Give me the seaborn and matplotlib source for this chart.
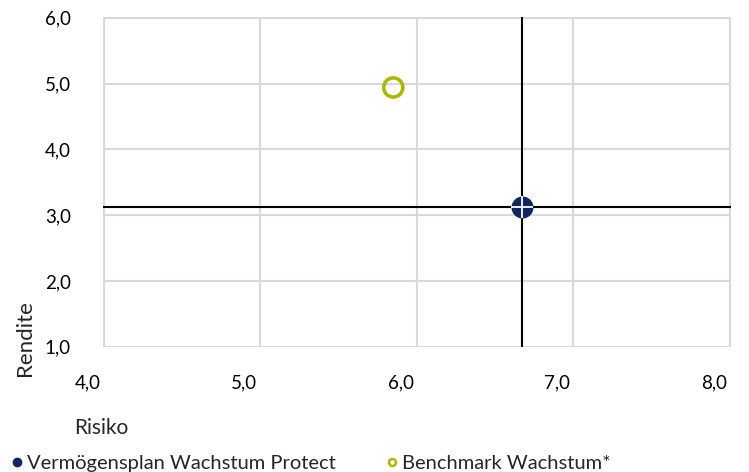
import matplotlib
matplotlib.use("Agg")
import matplotlib.pyplot as plt
import matplotlib.transforms as mtransforms
from matplotlib.lines import Line2D
import seaborn as sns
import pandas as pd

# Werte
namen = ["Vermögensplan Wachstum Protect", "Benchmark Wachstum*"]
risiko = [6.67, 5.85]
rendite = [3.12, 4.94]
x_ticks = [4.0, 5.0, 6.0, 7.0, 8.0]
y_ticks = [1.0, 2.0, 3.0, 4.0, 5.0, 6.0]

df = pd.DataFrame({"Risiko": risiko, "Rendite": rendite, "Name": namen})

sns.set_style("white")
plt.rcParams["font.family"] = ["Lato", "DejaVu Sans"]

navy = "#13265c"
gruen = "#a9b800"
grau = "#d9d9d9"

fig = plt.figure(figsize=(7.49, 4.72), dpi=100)
ax = fig.add_axes([0.1375, 0.2648, 0.8385, 0.699])

# Fadenkreuz durch den Fonds
ax.axhline(df.loc[0, "Rendite"], color="black", lw=1.5, zorder=3)
ax.axvline(df.loc[0, "Risiko"], color="black", lw=1.5, zorder=3)

sns.scatterplot(data=df.iloc[[0]], x="Risiko", y="Rendite", ax=ax,
                color=navy, s=250, edgecolor=navy, linewidth=0, zorder=4,
                legend=False)
ax.scatter(df.loc[0, "Risiko"], df.loc[0, "Rendite"], marker="+", s=230,
           color="white", linewidths=1.3, zorder=5)
sns.scatterplot(data=df.iloc[[1]], x="Risiko", y="Rendite", ax=ax,
                facecolor="none", edgecolor=gruen, s=190, linewidth=2.6,
                zorder=4, legend=False)

ax.set_xlim(3.995, 8.008)
ax.set_ylim(0.995, 6.01)
ax.set_xticks(x_ticks)
ax.set_yticks(y_ticks)
ax.set_xticklabels([f"{v:.1f}".replace(".", ",") for v in x_ticks])
ax.set_yticklabels([f"{v:.1f}".replace(".", ",") for v in y_ticks])
ax.grid(True, color=grau, lw=1.5)
ax.set_axisbelow(True)
for s in ax.spines.values():
    s.set_visible(False)
ax.tick_params(axis="both", length=11, width=1.5, color=grau,
               labelsize=13.5, labelcolor="black")
ax.tick_params(axis="y", pad=12)
ax.tick_params(axis="x", pad=9)
ax.set_xlabel("")
ax.set_ylabel("")

# x-Beschriftungen sitzen links neben der Gitterlinie
verschiebung = mtransforms.ScaledTranslation(-2 / 72, 0, fig.dpi_scale_trans)
for lab in ax.get_xticklabels():
    lab.set_ha("right")
    lab.set_transform(lab.get_transform() + verschiebung)

fig.text(0.034, 0.203, "Rendite", rotation=90, fontsize=16,
         ha="center", va="bottom")
fig.text(0.099, 0.094, "Risiko", fontsize=15, ha="left", va="center")

h = [Line2D([], [], marker="o", ls="", color=navy, markersize=6),
     Line2D([], [], marker="o", ls="", markerfacecolor="none",
            markeredgecolor=gruen, markeredgewidth=1.8, markersize=5)]
fig.legend(h, namen, loc="lower left", bbox_to_anchor=(-0.018, -0.038),
           ncol=2, frameon=False, fontsize=14.5, handletextpad=-0.1,
           handlelength=1.2, columnspacing=2.2)

fig.savefig("out.png", dpi=100)
